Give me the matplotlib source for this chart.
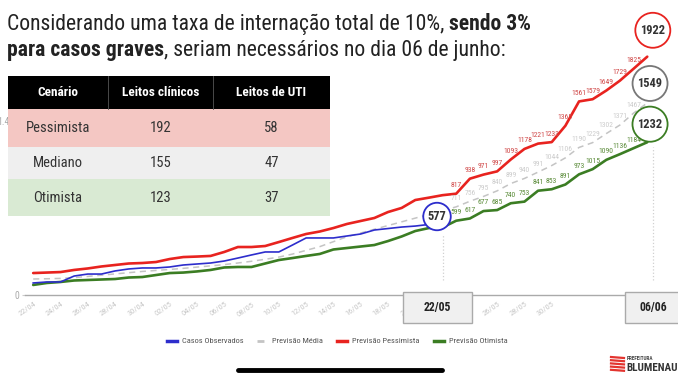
import numpy as np
import pandas as pd
import matplotlib
matplotlib.use('Agg')
import matplotlib.pyplot as plt
from matplotlib.patches import Rectangle
from matplotlib.lines import Line2D
from matplotlib import font_manager

W, H = 678, 381

# dates 22/04 .. 06/06
dates = pd.date_range('2020-04-22', '2020-06-06').strftime('%d/%m').tolist()

observados = [97, 105, 105, 153, 169, 169, 194, 210, 218, 218,
              226, 242, 250, 258, 274, 298, 323, 347, 347, 403,
              460, 460, 460, 476, 492, 524, 536, 548, 556, 569, 577]
media = [129, 131, 134, 140, 150, 160, 170, 180, 190, 198,
         206, 215, 225, 235, 245, 258, 272, 288, 306, 330,
         360, 390, 430, 470, 500, 530, 560, 590, 620, 650, 680,
         711, 756, 795, 840, 899, 940, 991, 1044, 1106, 1190,
         1229, 1302, 1371, 1467, 1549]
pessimista = [177, 181, 185, 202, 214, 230, 242, 254, 258, 266,
              290, 306, 310, 315, 347, 387, 387, 395, 427, 460,
              492, 512, 540, 573, 597, 621, 669, 702, 766, 785, 805,
              817, 938, 971, 997, 1093, 1178, 1221, 1233, 1365, 1561,
              1579, 1649, 1729, 1825, 1922]
otimista = [81, 97, 105, 117, 121, 125, 129, 141, 145, 161,
            177, 181, 190, 202, 222, 226, 226, 254, 282, 298,
            315, 331, 367, 379, 391, 403, 435, 472, 516, 540, 545,
            599, 617, 677, 685, 740, 753, 841, 853, 891, 973,
            1015, 1090, 1136, 1184, 1232]

cabecalho = ['Cenário', 'Leitos clínicos', 'Leitos de UTI']
cenarios = ['Pessimista', 'Mediano', 'Otimista']
leitos_clinicos = [192, 155, 123]
leitos_uti = [58, 47, 37]


def pick_font(names):
    for n in names:
        try:
            font_manager.findfont(font_manager.FontProperties(family=n),
                                  fallback_to_default=False)
            return n
        except ValueError:
            pass
    return 'DejaVu Sans'


narrow = pick_font(['Liberation Sans Narrow', 'Roboto Condensed', 'Open Sans', 'Roboto'])
plt.rcParams['font.family'] = [narrow, 'DejaVu Sans']


def fx(x):
    return x / W


def fy(y):
    return 1 - y / H


fig = plt.figure(figsize=(W / 100, H / 100), dpi=100)
ax = fig.add_axes([fx(25), fy(295), 640 / W, 290 / H])
ax.patch.set_alpha(0)

x = np.arange(len(dates))
c_red, c_green, c_gray, c_blue = '#e8231f', '#3b7d23', '#c4c4c4', '#2d2dcc'

ax.plot(x, otimista, color=c_green, lw=1.9, solid_capstyle='round')
ax.plot(x, pessimista, color=c_red, lw=1.9, solid_capstyle='round')
ax.plot(x, media, color=c_gray, lw=1.1, ls=(0, (4, 3)))
ax.plot(x[:len(observados)], observados, color=c_blue, lw=1.2)

ax.set_xlim(-0.6, 46.3)
ax.set_ylim(0, 290 / 0.124)
for s in ['top', 'right', 'left']:
    ax.spines[s].set_visible(False)
ax.spines['bottom'].set_color('#aaaaaa')
ax.spines['bottom'].set_linewidth(1.0)

ax.set_xticks(x[0:39:2])
ax.set_xticklabels(dates[0:39:2], rotation=35, ha='right', rotation_mode='anchor',
                   fontsize=6, color='#c8c8c8')
ax.tick_params(axis='x', length=0, pad=4)
ax.set_yticks([0, 1400])
ax.set_yticklabels(['0', '1.400'], fontsize=7, color='#aaaaaa')
ax.tick_params(axis='y', length=2, color='#cccccc', pad=2)

# value labels for the forecast period
i0 = len(observados)
for serie, col in [(pessimista, '#d04848'), (media, '#cccccc'), (otimista, '#5b8c3a')]:
    for i in range(i0, len(dates) - 1):
        ax.annotate(str(serie[i]), (x[i], serie[i]), xytext=(0, 4),
                    textcoords='offset points', ha='center', va='bottom',
                    fontsize=5.5, color=col)

# vertical dotted guides
ax.vlines([x[i0 - 1]], 120, 480, colors='#d0d0d0', linestyles=':', lw=0.9)
ax.vlines([x[-1] + 0.4], 120, 1190, colors='#d0d0d0', linestyles=':', lw=0.9)

# circled values
circ = dict(ha='center', va='center', fontsize=9, fontweight='bold', color='#333333',
            textcoords='offset points', zorder=6)
ax.annotate(str(observados[-1]), (x[i0 - 1], observados[-1]), xytext=(-4, 5),
            bbox=dict(boxstyle='circle,pad=0.35', fc='white', ec=c_blue, lw=1.3), **circ)
ax.annotate(str(pessimista[-1]), (x[-1], pessimista[-1]), xytext=(4, 19),
            bbox=dict(boxstyle='circle,pad=0.4', fc='white', ec=c_red, lw=1.3), **circ)
ax.annotate(str(media[-1]), (x[-1], media[-1]), xytext=(2, 14),
            bbox=dict(boxstyle='circle,pad=0.4', fc='white', ec='#777777', lw=1.3), **circ)
ax.annotate(str(otimista[-1]), (x[-1], otimista[-1]), xytext=(2, 13),
            bbox=dict(boxstyle='circle,pad=0.4', fc='white', ec=c_green, lw=1.3), **circ)

# date boxes under the axis
for (l, r), txt, xt in [((403, 472), '22/05', 437.5), ((625, 682), '06/06', 653)]:
    fig.add_artist(Rectangle((fx(l), fy(323)), (r - l) / W, 31 / H, transform=fig.transFigure,
                             fc='#f0f0f0', ec='#aaaaaa', lw=1, zorder=5))
    fig.text(fx(xt), fy(308), txt, ha='center', va='center',
             fontsize=8.5, fontweight='bold', color='#222222', zorder=6)

# table
cols = [8, 108, 213, 330]
rows = [76, 109, 147, 179, 216]
row_colors = ['#000000', '#f4c7c3', '#efefef', '#d9ead3']
for r in range(4):
    fig.add_artist(Rectangle((fx(cols[0]), fy(rows[r + 1])), (cols[-1] - cols[0]) / W,
                             (rows[r + 1] - rows[r]) / H, transform=fig.transFigure,
                             fc=row_colors[r], ec='none', zorder=5))
for c in cols[1:3]:
    fig.add_artist(Line2D([fx(c), fx(c)], [fy(rows[0]), fy(rows[1])], transform=fig.transFigure,
                          color='#555555', lw=0.6, zorder=6))
for j, h in enumerate(cabecalho):
    fig.text(fx((cols[j] + cols[j + 1]) / 2), fy((rows[0] + rows[1]) / 2), h, ha='center',
             va='center', fontsize=9.5, fontweight='bold', color='white', zorder=7)
for r, (nome, lc, lu) in enumerate(zip(cenarios, leitos_clinicos, leitos_uti)):
    yc = fy((rows[r + 1] + rows[r + 2]) / 2)
    for j, v in enumerate([nome, str(lc), str(lu)]):
        fig.text(fx((cols[j] + cols[j + 1]) / 2), yc, v, ha='center', va='center',
                 fontsize=10.5, color='#333333', zorder=7)

# title with bold runs
renderer = fig.canvas.get_renderer()
linhas = [[('Considerando uma taxa de internação total de 10%, ', 'normal'), ('sendo 3%', 'bold')],
          [('para casos graves', 'bold'), (', seriam necessários no dia 06 de junho:', 'normal')]]


def draw_line(runs, x0, yb, size, draw=True):
    xc = x0
    for txt, wgt in runs:
        t = fig.text(fx(xc), fy(yb), txt, fontsize=size, fontweight=wgt, color='#222222',
                     va='baseline', ha='left', zorder=7)
        xc += t.get_window_extent(renderer).width
        if not draw:
            t.remove()
    return xc - x0


size = 16
wid = draw_line(linhas[0], 7, 30, size, draw=False)
size = size * 526 / wid
draw_line(linhas[0], 7, 30, size)
draw_line(linhas[1], 7, 56, size)

# legend
handles = [Line2D([], [], color=c_blue, lw=2.5),
           Line2D([], [], color=c_gray, lw=2, ls=(0, (2.5, 2))),
           Line2D([], [], color=c_red, lw=2.5),
           Line2D([], [], color=c_green, lw=2.5)]
fig.legend(handles, ['Casos Observados', 'Previsão Média', 'Previsão Pessimista', 'Previsão Otimista'],
           loc='center', bbox_to_anchor=(fx(337), fy(341)), ncol=4, frameon=False,
           fontsize=6, handlelength=1.2, columnspacing=1.7, handletextpad=0.6, labelcolor='#555555')

# phone home bar
fig.add_artist(Line2D([fx(238), fx(442)], [fy(370), fy(370)], transform=fig.transFigure,
                      color='black', lw=3.5, solid_capstyle='round', zorder=7))

# logo
for k in range(5):
    yy = 357 + k * 3.2
    fig.add_artist(Line2D([fx(611), fx(624)], [fy(yy), fy(yy + 1)], transform=fig.transFigure,
                          color='#e3342f', lw=1.6, zorder=7))
fig.text(fx(627), fy(358), 'PREFEITURA', fontsize=3.8, fontweight='bold', color='#444444',
         va='center', ha='left', zorder=7)
fig.text(fx(626), fy(368), 'BLUMENAU', fontsize=8, fontweight='bold', color='#333333',
         va='center', ha='left', zorder=7)

fig.savefig('out.png', dpi=100)
